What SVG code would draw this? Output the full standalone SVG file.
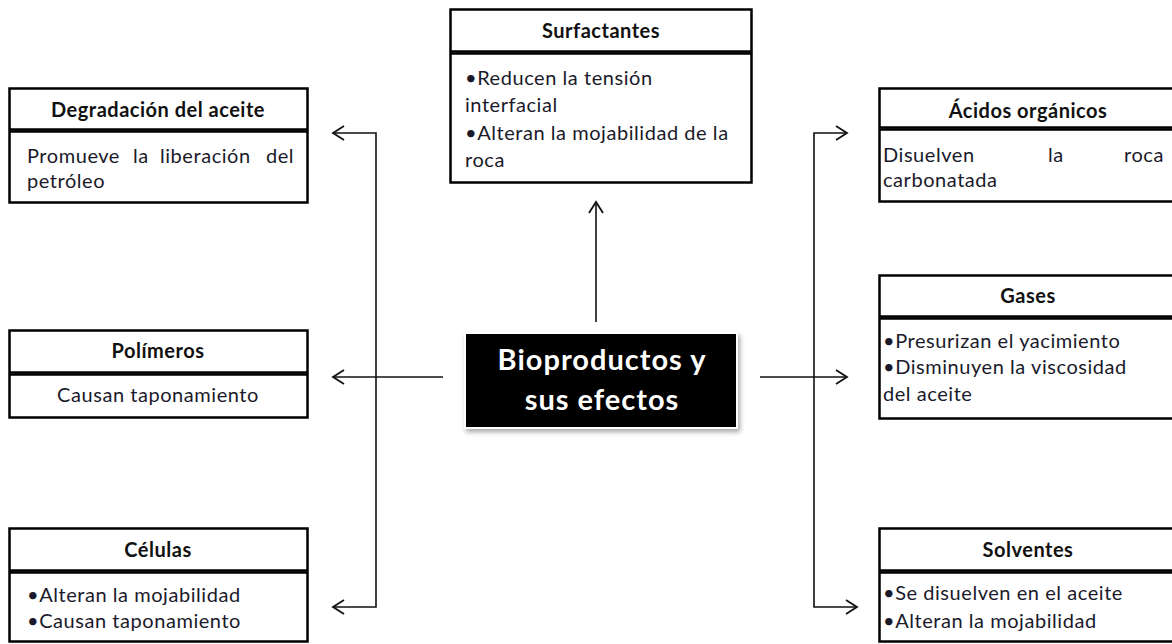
<svg xmlns="http://www.w3.org/2000/svg" width="1172" height="644" viewBox="0 0 1172 644">
<style>
.box{fill:#fff;stroke:#000;stroke-width:2.5}
.title{font-family:Lato,"Liberation Sans",sans-serif;font-weight:bold;font-size:20px;letter-spacing:0.5px;fill:#111;text-anchor:middle}
.body{font-family:Lato,"Liberation Sans",sans-serif;font-size:20px;letter-spacing:0.55px;fill:#1a1a2a}
.conn{fill:none;stroke:#111;stroke-width:1.6}
.center{font-family:Lato,"Liberation Sans",sans-serif;font-weight:bold;font-size:29px;letter-spacing:1px;fill:#fff;text-anchor:middle}
</style>
<defs>
<marker id="arr" markerUnits="userSpaceOnUse" markerWidth="20" markerHeight="20" refX="0" refY="0" viewBox="-13 -10 16 20" orient="auto-start-reverse">
<path d="M-11,-7 L0,0 L-11,7" fill="none" stroke="#111" stroke-width="1.8"/>
</marker>
<filter id="sh" x="-10%" y="-10%" width="125%" height="135%">
<feDropShadow dx="2" dy="3" stdDeviation="2.5" flood-color="#000" flood-opacity="0.35"/>
</filter>
</defs>
<rect width="1172" height="644" fill="#fff"/>

<g id="connectors">
<path class="conn" d="M333,133 L376,133 L376,607 L333,607" marker-start="url(#arr)" marker-end="url(#arr)"/>
<path class="conn" d="M443,377 L333,377" marker-end="url(#arr)"/>
<path class="conn" d="M596,322 L596,202" marker-end="url(#arr)"/>
<path class="conn" d="M847,133 L814,133 L814,607 L857,607" marker-start="url(#arr)" marker-end="url(#arr)"/>
<path class="conn" d="M760,377 L847,377" marker-end="url(#arr)"/>
</g>

<g id="center">
<rect x="465" y="333" width="272" height="95" fill="#000" stroke="#fff" stroke-width="2" filter="url(#sh)"/>
<text class="center" x="602" y="370">Bioproductos y</text>
<text class="center" x="602" y="410">sus efectos</text>
</g>

<g id="degradacion">
<rect class="box" x="9.5" y="88.5" width="298" height="41"/>
<rect class="box" x="9.5" y="131.5" width="298" height="71"/>
<text class="title" x="158" y="117">Degradación del aceite</text>
<text class="body" y="163"><tspan x="27">Promueve</tspan><tspan x="133">la</tspan><tspan x="160">liberación</tspan><tspan x="266">del</tspan></text>
<text class="body" x="27" y="188">petróleo</text>
</g>

<g id="polimeros">
<rect class="box" x="9.5" y="330.5" width="298" height="42"/>
<rect class="box" x="9.5" y="374.5" width="298" height="43"/>
<text class="title" x="158" y="358">Polímeros</text>
<text class="body" x="158" y="402" text-anchor="middle">Causan taponamiento</text>
</g>

<g id="celulas">
<rect class="box" x="9.5" y="528.5" width="298" height="42"/>
<rect class="box" x="9.5" y="572.5" width="298" height="69"/>
<text class="title" x="158" y="557">Células</text>
<text class="body" x="27" y="602">•Alteran la mojabilidad</text>
<text class="body" x="27" y="628">•Causan taponamiento</text>
</g>

<g id="surfactantes">
<rect class="box" x="450.5" y="9.5" width="301" height="42"/>
<rect class="box" x="450.5" y="53.5" width="301" height="129"/>
<text class="title" x="601" y="38">Surfactantes</text>
<text class="body" x="465" y="85">•Reducen la tensión</text>
<text class="body" x="465" y="112">interfacial</text>
<text class="body" x="465" y="140">•Alteran la mojabilidad de la</text>
<text class="body" x="465" y="167">roca</text>
</g>

<g id="acidos">
<rect class="box" x="879.5" y="88.5" width="300" height="39"/>
<rect class="box" x="879.5" y="129.5" width="300" height="72"/>
<text class="title" x="1028" y="118">Ácidos orgánicos</text>
<text class="body" y="162"><tspan x="883">Disuelven</tspan><tspan x="1048">la</tspan><tspan x="1124">roca</tspan></text>
<text class="body" x="883" y="187">carbonatada</text>
</g>

<g id="gases">
<rect class="box" x="879.5" y="275.5" width="300" height="41"/>
<rect class="box" x="879.5" y="318.5" width="300" height="100"/>
<text class="title" x="1028" y="303">Gases</text>
<text class="body" x="883" y="348">•Presurizan el yacimiento</text>
<text class="body" x="883" y="374">•Disminuyen la viscosidad</text>
<text class="body" x="883" y="401">del aceite</text>
</g>

<g id="solventes">
<rect class="box" x="879.5" y="528.5" width="300" height="42"/>
<rect class="box" x="879.5" y="572.5" width="300" height="69"/>
<text class="title" x="1028" y="557">Solventes</text>
<text class="body" x="883" y="600">•Se disuelven en el aceite</text>
<text class="body" x="883" y="628">•Alteran la mojabilidad</text>
</g>
</svg>
